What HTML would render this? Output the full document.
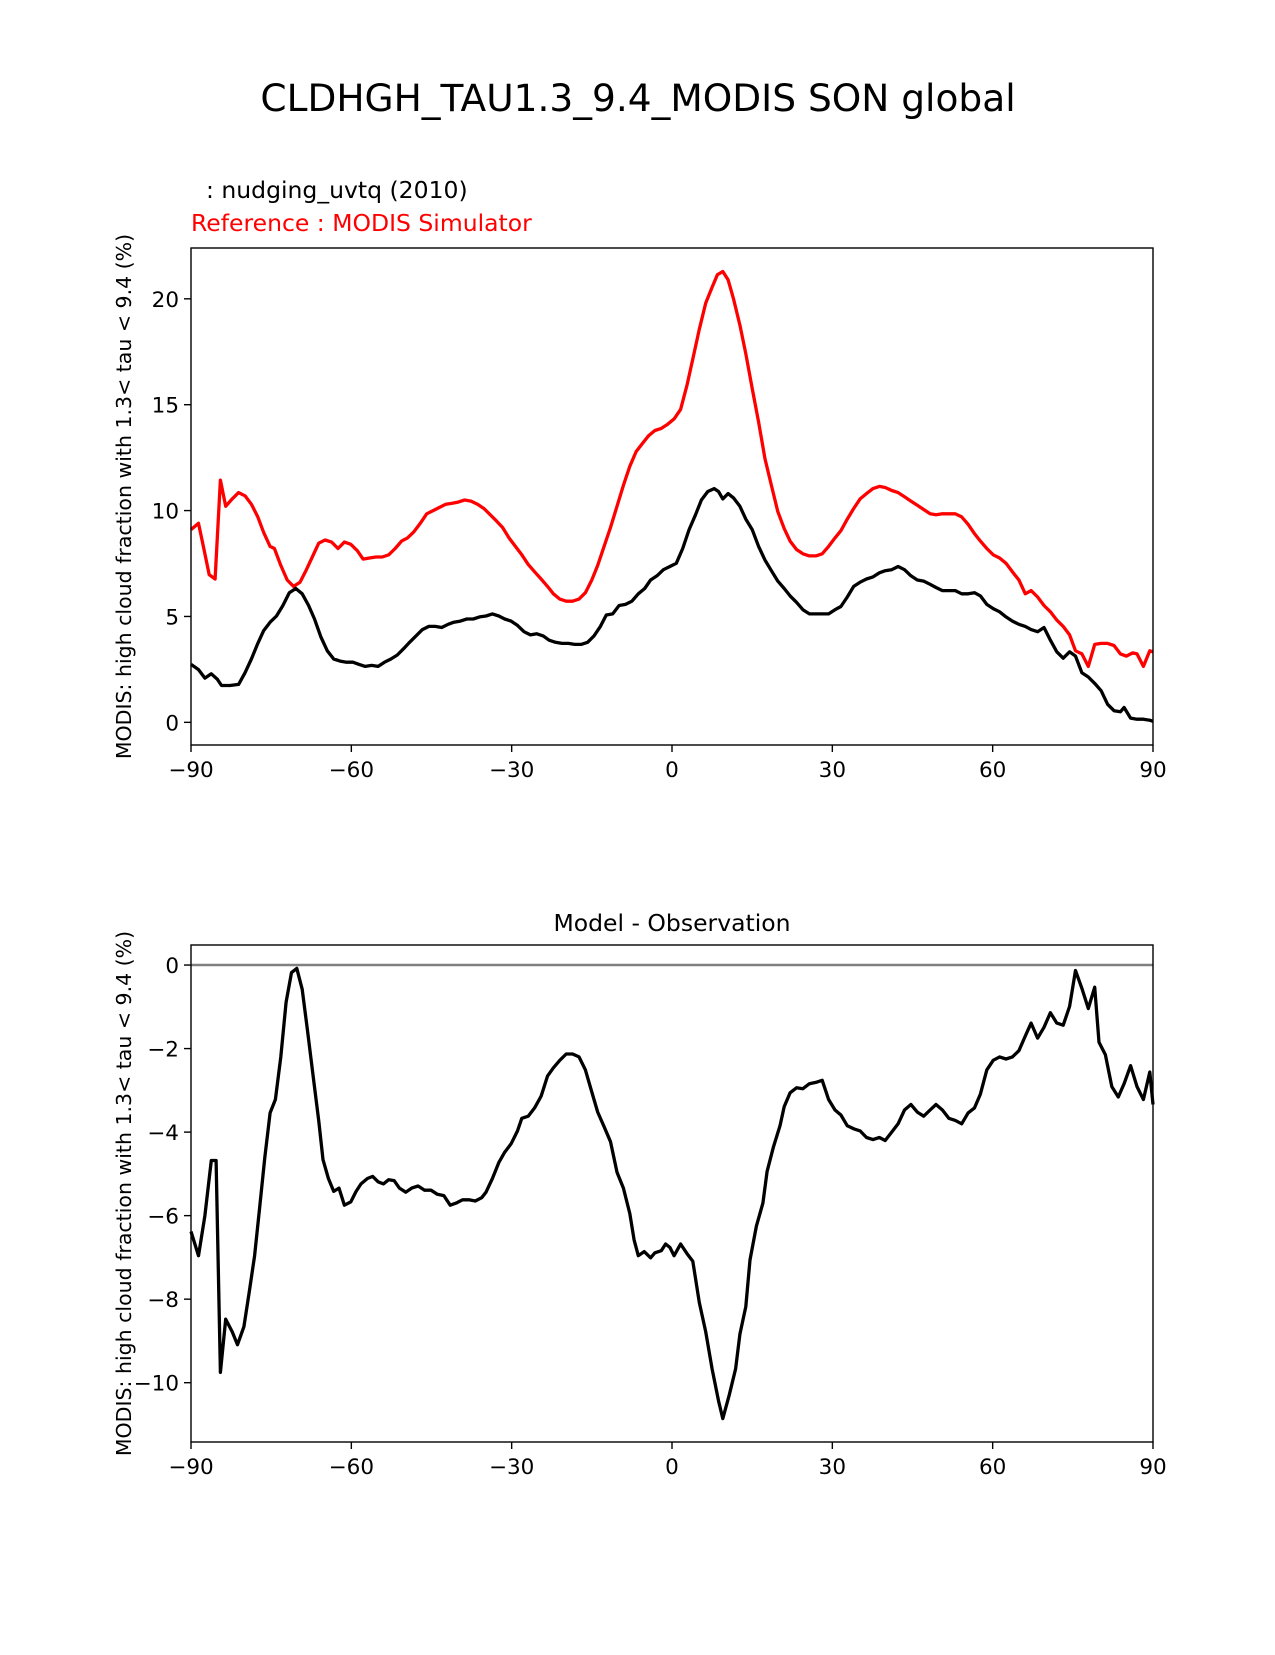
<!DOCTYPE html>
<html><head><meta charset="utf-8"><style>
html,body{margin:0;padding:0;background:#fff;}
svg text{font-family:"DejaVu Sans","Liberation Sans",sans-serif;}
</style></head><body>
<svg id="fig" width="1275" height="1650" xmlns="http://www.w3.org/2000/svg">
<rect width="1275" height="1650" fill="#fff"/>
<text x="638" y="111" font-size="37.5" text-anchor="middle">CLDHGH_TAU1.3_9.4_MODIS SON global</text>
<text x="206" y="198" font-size="23.5">: nudging_uvtq (2010)</text>
<text x="191" y="231" font-size="23.5" fill="#ff0000">Reference : MODIS Simulator</text>
<text x="672" y="931" font-size="23.5" text-anchor="middle">Model - Observation</text>
<g id="top"></g><g id="bot"></g>
</svg>
<script>
const xTicks=[-90,-60,-30,0,30,60,90];
const topYTicks=[0,5,10,15,20];
const botYTicks=[0,-2,-4,-6,-8,-10];
const refLats=[-90,-88.6,-87.6,-86.6,-85.5,-84.5,-83.5,-82.3,-81.1,-79.9,-78.7,-77.5,-76.4,-75.2,-74.4,-73.2,-72.0,-70.8,-69.6,-68.4,-67.3,-66.1,-64.9,-63.7,-62.5,-61.3,-60.1,-58.9,-57.8,-56.6,-55.4,-54.2,-53.0,-51.8,-50.6,-49.5,-48.3,-47.1,-45.9,-44.7,-43.5,-42.3,-41.1,-40.0,-38.8,-37.6,-36.4,-35.2,-34.0,-32.8,-31.7,-30.5,-29.3,-28.1,-26.9,-25.7,-24.5,-23.3,-22.2,-21.0,-19.8,-18.6,-17.4,-16.2,-15.0,-13.9,-12.7,-11.5,-10.3,-9.1,-7.9,-6.7,-5.5,-4.4,-3.2,-2.0,-0.8,0.4,1.6,2.8,3.9,5.1,6.3,7.5,8.5,9.5,10.5,11.5,12.7,13.8,15.0,16.2,17.4,18.6,19.8,21.0,22.1,23.3,24.5,25.7,26.9,28.1,29.3,30.5,31.6,32.8,34.0,35.2,36.4,37.6,38.8,39.9,41.1,42.3,43.5,44.7,45.9,47.1,48.3,49.4,50.6,51.8,53.0,54.2,55.4,56.6,57.7,58.9,60.1,61.3,62.5,63.7,64.9,66.1,67.2,68.4,69.6,70.8,72.0,73.2,74.4,75.5,76.7,77.9,79.1,80.3,81.5,82.7,83.9,85.0,86.2,87.0,88.2,89.4,90];
const refValues=[9.10,9.40,8.21,6.97,6.77,11.44,10.20,10.55,10.85,10.70,10.30,9.70,8.96,8.31,8.21,7.41,6.72,6.42,6.62,7.21,7.81,8.46,8.61,8.51,8.21,8.51,8.41,8.11,7.71,7.76,7.81,7.81,7.91,8.21,8.56,8.71,9.00,9.40,9.85,10.00,10.15,10.30,10.35,10.40,10.50,10.45,10.30,10.10,9.80,9.50,9.20,8.71,8.31,7.91,7.46,7.11,6.77,6.42,6.07,5.82,5.72,5.72,5.82,6.12,6.72,7.41,8.31,9.20,10.20,11.19,12.09,12.79,13.18,13.53,13.78,13.88,14.08,14.33,14.78,15.92,17.16,18.56,19.80,20.55,21.14,21.29,20.90,20.00,18.76,17.41,15.77,14.18,12.44,11.19,9.95,9.15,8.56,8.16,7.96,7.86,7.86,7.96,8.31,8.71,9.05,9.60,10.10,10.55,10.80,11.04,11.14,11.09,10.95,10.85,10.65,10.45,10.25,10.05,9.85,9.80,9.85,9.85,9.85,9.70,9.35,8.91,8.56,8.21,7.91,7.76,7.51,7.11,6.72,6.07,6.22,5.92,5.52,5.22,4.83,4.53,4.13,3.38,3.23,2.64,3.68,3.73,3.73,3.63,3.23,3.13,3.28,3.23,2.64,3.38,3.33];
const modelLats=[-90,-88.6,-87.4,-86.2,-85.1,-84.3,-82.7,-81.1,-79.9,-78.7,-77.5,-76.4,-75.2,-74.0,-72.8,-71.6,-70.4,-69.2,-68.0,-66.9,-65.7,-64.5,-63.3,-62.1,-60.9,-59.7,-58.6,-57.4,-56.2,-55.0,-53.8,-52.6,-51.4,-50.2,-49.1,-47.9,-46.7,-45.5,-44.3,-43.1,-41.9,-40.8,-39.6,-38.4,-37.2,-36.0,-34.8,-33.6,-32.4,-31.3,-30.1,-28.9,-27.7,-26.5,-25.3,-24.1,-23.0,-21.8,-20.6,-19.4,-18.2,-17.0,-15.8,-14.6,-13.4,-12.3,-11.1,-9.9,-8.7,-7.5,-6.3,-5.1,-4.0,-2.8,-1.6,-0.4,0.8,2.0,3.2,4.4,5.5,6.7,7.9,8.7,9.5,10.5,11.5,12.7,13.8,15.0,16.2,17.4,18.6,19.8,21.0,22.1,23.3,24.5,25.7,26.9,28.1,29.3,30.5,31.6,32.8,34.0,35.2,36.4,37.6,38.8,39.9,41.1,42.3,43.5,44.7,45.9,47.1,48.3,49.4,50.6,51.8,53.0,54.2,55.4,56.6,57.7,58.9,60.1,61.3,62.5,63.7,64.9,66.1,67.2,68.4,69.6,70.8,72.0,73.2,74.4,75.5,76.7,77.9,79.1,80.3,81.5,82.7,83.9,84.6,85.8,87.0,88.2,89.4,90];
const modelValues=[2.74,2.49,2.09,2.29,2.04,1.74,1.74,1.79,2.34,2.99,3.73,4.33,4.73,5.02,5.52,6.12,6.32,6.07,5.52,4.88,4.03,3.38,2.99,2.89,2.84,2.84,2.74,2.64,2.69,2.64,2.84,2.99,3.18,3.48,3.78,4.08,4.38,4.53,4.53,4.48,4.63,4.73,4.78,4.88,4.88,4.98,5.02,5.12,5.02,4.88,4.78,4.58,4.28,4.13,4.18,4.08,3.88,3.78,3.73,3.73,3.68,3.68,3.78,4.08,4.53,5.07,5.12,5.52,5.57,5.72,6.07,6.32,6.72,6.92,7.21,7.36,7.51,8.21,9.10,9.80,10.50,10.90,11.04,10.90,10.55,10.80,10.60,10.20,9.60,9.10,8.31,7.66,7.16,6.67,6.32,5.97,5.67,5.32,5.12,5.12,5.12,5.12,5.32,5.47,5.92,6.42,6.62,6.77,6.87,7.06,7.16,7.21,7.36,7.21,6.92,6.72,6.67,6.52,6.37,6.22,6.22,6.22,6.07,6.07,6.12,5.97,5.57,5.37,5.22,4.98,4.78,4.63,4.53,4.38,4.28,4.48,3.88,3.33,3.03,3.33,3.13,2.34,2.14,1.84,1.49,0.85,0.55,0.50,0.70,0.20,0.15,0.15,0.10,0.05];
const diffLats=[-90,-88.6,-87.4,-86.2,-85.3,-84.5,-83.5,-82.3,-81.3,-80.1,-79.1,-78.1,-77.1,-76.2,-75.2,-74.2,-73.2,-72.2,-71.2,-70.2,-69.2,-68.2,-67.1,-66.1,-65.3,-64.3,-63.3,-62.3,-61.3,-60.1,-59.1,-58.2,-57.0,-56.0,-55.0,-54.0,-53.0,-52.0,-51.0,-49.8,-48.7,-47.5,-46.3,-45.1,-43.9,-42.7,-41.5,-40.4,-39.2,-38.0,-36.8,-35.6,-34.8,-33.6,-32.4,-31.3,-30.1,-28.9,-28.1,-26.9,-25.7,-24.5,-23.3,-22.2,-21.0,-19.8,-18.6,-17.4,-16.2,-15.0,-13.9,-12.7,-11.5,-10.3,-9.1,-7.9,-7.1,-6.3,-5.2,-4.0,-3.2,-2.0,-1.2,-0.4,0.4,1.6,2.8,3.9,5.1,6.3,7.5,8.7,9.5,10.7,11.9,12.7,13.8,14.6,15.8,17.0,17.8,19.0,20.2,21.0,22.1,23.3,24.5,25.7,26.9,28.1,29.3,30.5,31.6,32.8,34.0,35.2,36.4,37.6,38.8,39.9,41.1,42.3,43.5,44.7,45.9,47.1,48.3,49.4,50.6,51.8,53.0,54.2,55.4,56.6,57.7,58.9,60.1,61.3,62.5,63.7,64.9,66.1,67.2,68.4,69.6,70.8,72.0,73.2,74.4,75.5,76.7,77.9,79.1,79.9,81.1,82.3,83.5,84.6,85.8,87.0,88.2,89.4,90];
const diffValues=[-6.38,-6.96,-6.00,-4.68,-4.68,-9.75,-8.48,-8.78,-9.09,-8.66,-7.82,-6.96,-5.75,-4.61,-3.54,-3.22,-2.20,-0.89,-0.18,-0.08,-0.58,-1.57,-2.71,-3.72,-4.66,-5.11,-5.42,-5.34,-5.75,-5.67,-5.42,-5.24,-5.11,-5.06,-5.19,-5.24,-5.14,-5.16,-5.34,-5.44,-5.34,-5.29,-5.39,-5.39,-5.49,-5.52,-5.75,-5.70,-5.62,-5.62,-5.65,-5.57,-5.44,-5.11,-4.73,-4.48,-4.28,-3.97,-3.67,-3.62,-3.42,-3.14,-2.66,-2.46,-2.28,-2.13,-2.13,-2.20,-2.51,-3.04,-3.52,-3.87,-4.23,-4.96,-5.34,-5.95,-6.58,-6.96,-6.86,-7.01,-6.89,-6.84,-6.68,-6.76,-6.96,-6.68,-6.91,-7.09,-8.08,-8.78,-9.67,-10.43,-10.86,-10.30,-9.67,-8.84,-8.18,-7.06,-6.25,-5.70,-4.94,-4.35,-3.85,-3.39,-3.06,-2.94,-2.96,-2.84,-2.81,-2.76,-3.22,-3.47,-3.59,-3.85,-3.92,-3.97,-4.13,-4.18,-4.13,-4.20,-4.00,-3.80,-3.47,-3.34,-3.52,-3.62,-3.47,-3.34,-3.47,-3.67,-3.72,-3.80,-3.54,-3.42,-3.09,-2.51,-2.28,-2.20,-2.25,-2.20,-2.05,-1.70,-1.39,-1.75,-1.49,-1.14,-1.39,-1.44,-0.99,-0.13,-0.56,-1.04,-0.53,-1.85,-2.15,-2.91,-3.16,-2.84,-2.41,-2.91,-3.22,-2.56,-3.34];

const NS='http://www.w3.org/2000/svg';
function mk(tag,attrs,parent){const e=document.createElementNS(NS,tag);for(const k in attrs)e.setAttribute(k,attrs[k]);parent.appendChild(e);return e;}
function fmt(v){return v<0?'\u2212'+Math.abs(v):''+v;}

function panel(g,top,bottom,ymin,ymax,yticks,series,zero,name){
  const L=191,R=1153;
  const xs=v=>L+(v+90)/180*(R-L);
  const ys=v=>bottom-(v-ymin)/(ymax-ymin)*(bottom-top);
  if(zero){const z=mk('line',{x1:L,x2:R,y1:ys(0),y2:ys(0),stroke:'#808080','stroke-width':2.5},g);
    
    }
  series.forEach(s=>{
    const n=Math.min(s.lats.length,s.vals.length);
    let d='';
    for(let i=0;i<n;i++)d+=(i?'L':'M')+xs(s.lats[i]).toFixed(1)+' '+ys(s.vals[i]).toFixed(1)+' ';
    const p=mk('path',{d:d,fill:'none',stroke:s.color,'stroke-width':3.3,'stroke-linejoin':'round'},g);
    
    
  });
  const fr=mk('rect',{x:L,y:top,width:R-L,height:bottom-top,fill:'none',stroke:'#000','stroke-width':1.4},g);
  
  
  xTicks.forEach(t=>{
    mk('line',{x1:xs(t),x2:xs(t),y1:bottom,y2:bottom+7,stroke:'#000','stroke-width':1.4},g);
    const tx=mk('text',{x:xs(t),y:bottom+32,'font-size':21.5,'text-anchor':'middle'},g);
    tx.textContent=fmt(t);
    
    
  });
  yticks.forEach(t=>{
    mk('line',{x1:L-7,x2:L,y1:ys(t),y2:ys(t),stroke:'#000','stroke-width':1.4},g);
    const tx=mk('text',{x:L-12,y:ys(t)+8,'font-size':21.5,'text-anchor':'end'},g);
    tx.textContent=fmt(t);
    
    
  });
  const yl=mk('text',{x:0,y:0,'font-size':20.5,'text-anchor':'middle',transform:'translate(131,'+((top+bottom)/2)+') rotate(-90)'},g);
  yl.textContent='MODIS: high cloud fraction with 1.3< tau < 9.4 (%)';
  
  
}
panel(document.getElementById('top'),248,745,-1.07,22.4,topYTicks,[{lats:refLats,vals:refValues,color:'#ff0000',name:'reference-line'},{lats:modelLats,vals:modelValues,color:'#000',name:'model-line'}],false,'top');
panel(document.getElementById('bot'),945,1442,-11.42,0.48,botYTicks,[{lats:diffLats,vals:diffValues,color:'#000',name:'difference-line'}],true,'bottom');
</script>
</body></html>
